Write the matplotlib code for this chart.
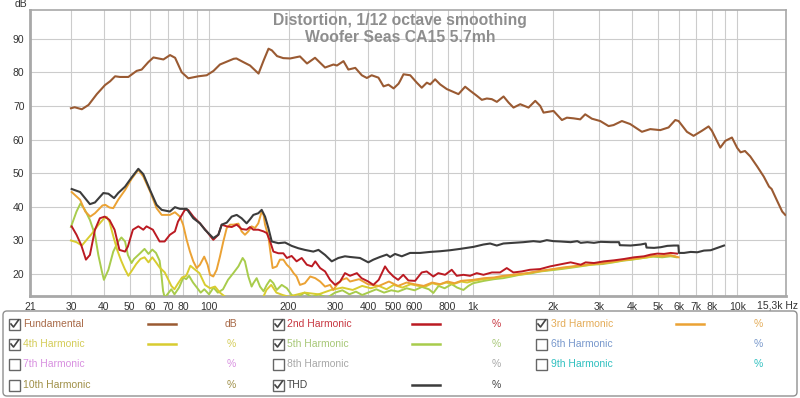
import matplotlib
matplotlib.use('Agg')
import matplotlib.pyplot as plt
from matplotlib.patches import FancyBboxPatch, Rectangle
from matplotlib.ticker import NullLocator

plt.rcParams['font.family'] = ['Liberation Sans', 'DejaVu Sans']

# Fundamental (dB)
fund_f = [30, 31, 33, 35, 37.6, 40.4, 42.2, 44.1, 46, 49.5, 53.2, 55.6, 58.9, 61.6, 67.2, 71.2,
          74.4, 78.8, 83.5, 91.2, 98, 104, 110, 124, 127, 135, 143, 154, 161, 168, 173, 181,
          191, 203, 221, 235, 252, 275, 296, 305, 323, 337, 358, 379, 396, 413, 438, 458,
          478, 500, 522, 529, 545, 578, 612, 639, 668, 688, 718, 750, 795, 880, 933, 975,
          1033, 1079, 1127, 1177, 1230, 1304, 1362, 1422, 1508, 1621, 1719, 1795, 1848, 2016,
          2169, 2265, 2401, 2544, 2657, 2816, 3029, 3258, 3402, 3659, 3934, 4356, 4685, 5112,
          5497, 5827, 5998, 6450, 6834, 7350, 7790, 8020, 8628, 9012, 9550, 10000, 10300,
          10700, 11200, 11900, 12600, 13200, 13500, 14100, 14800, 15200]
fund_v = [69.3, 69.6, 69.0, 70.3, 73.5, 76.2, 77.3, 78.8, 78.6, 78.6, 80.4, 80.8, 83.0, 84.4,
          83.8, 85.1, 84.3, 80.0, 78.2, 78.8, 79.1, 80.4, 82.3, 84.0, 84.1, 83.0, 82.0, 79.6,
          83.5, 87.0, 86.5, 84.8, 84.2, 84.1, 84.7, 82.6, 84.3, 81.4, 82.3, 82.0, 83.3, 80.8,
          81.3, 79.1, 78.3, 79.1, 78.4, 75.8, 76.3, 75.2, 76.6, 77.4, 79.4, 79.1, 76.9, 75.4,
          76.9, 76.4, 77.9, 76.4, 75.0, 73.5, 75.7, 74.5, 73.0, 71.8, 72.2, 72.0, 71.2, 72.8,
          71.0, 69.5, 70.5, 69.5, 71.5, 70.0, 68.0, 68.5, 65.8, 66.5, 66.3, 66.0, 67.5, 66.2,
          65.5, 64.0, 64.3, 65.5, 64.6, 62.3, 63.1, 62.8, 63.6, 65.8, 65.5, 62.3, 61.1, 62.6,
          63.9, 62.6, 57.6, 59.6, 60.6, 57.5, 56.2, 56.6, 55.0, 52.0, 49.0, 46.0, 45.3, 42.1,
          38.6, 37.6]

# 2nd harmonic (%)
h2_f = [30.2, 31.5, 32.8, 34.2, 35.4, 37, 38.6, 40.3, 42, 43.9, 45.8, 48.1, 49.3, 51.5, 54,
        56.4, 58, 61.3, 65, 67.9, 71.1, 74.3, 76.3, 81, 83.4, 87.2, 92.4, 98, 103.8, 108.5,
        111.7, 116.7, 121.9, 127.3, 132.9, 138.8, 143, 147.2, 153.7, 160.9, 165.5, 170.4,
        175.3, 183.1, 191.2, 197.2, 205.5, 214.6, 224.4, 234.6, 245.2, 252.5, 263.5, 275.1,
        287.4, 300.2, 313.6, 327.2, 342, 363, 378, 401, 419, 439, 464, 478, 499, 520, 544,
        569, 603, 639, 667, 707, 738, 783, 830, 867, 919, 974, 1032, 1094, 1178, 1265, 1341,
        1421, 1528, 1642, 1793, 1957, 2106, 2340, 2555, 2667, 2868, 3131, 3415, 3726, 4065,
        4436, 4700, 4985, 5282, 5598, 5915]
h2_v = [34.2, 31.7, 28.7, 24.3, 25.7, 33.2, 36.6, 37.1, 36.1, 33.2, 27.2, 26.7, 28.2, 33.2,
        34.2, 33.2, 34.2, 33.2, 29.7, 29.7, 31.7, 32.7, 35.6, 39.1, 39.1, 37.1, 35.1, 32.7,
        30.2, 31.7, 34.7, 34.2, 34.0, 34.7, 33.4, 33.2, 34.0, 33.2, 33.2, 32.7, 32.2, 29.7,
        26.7, 26.2, 26.2, 24.8, 25.4, 23.8, 24.8, 22.8, 22.3, 23.8, 21.8, 20.8, 18.3, 16.8,
        17.8, 20.3, 19.5, 20.3, 18.8, 17.8, 16.8, 18.3, 22.3, 20.8, 19.3, 18.3, 19.8, 18.1,
        18.0, 20.5, 20.8, 19.3, 20.3, 19.8, 21.3, 19.5, 19.8, 19.5, 20.3, 19.8, 20.5, 20.5,
        21.8, 20.5, 20.8, 21.3, 21.5, 22.3, 22.8, 23.5, 22.8, 23.5, 23.3, 23.8, 24.1, 24.5,
        25.0, 25.3, 25.8, 26.1, 26.0, 26.3, 26.1]

# 3rd harmonic (%)
h3_f = [30.2, 32.5, 34, 35.5, 37, 39.5, 40.5, 42, 43.4, 45.3, 48.1, 50.9, 54, 56.4, 59.8,
        63.3, 66.2, 71.1, 74.3, 77.6, 79.8, 82.3, 84.7, 87.2, 89.8, 92.4, 95.9, 98.8, 100.9,
        103.8, 106.9, 110, 113.3, 116.7, 120.1, 123.7, 129.2, 132.9, 136.8, 140.9, 145,
        149.3, 153.7, 158.3, 160.9, 163, 167.8, 170.4, 174.1, 180.5, 185.5, 191.2, 197, 203,
        209, 214.6, 221, 230.7, 241.7, 252.5, 263.5, 275, 287.4, 295.6, 304.7, 318, 332, 342,
        370, 400, 440, 480, 520, 560, 600, 650, 700, 750, 800, 850, 900, 1000, 1100, 1200,
        1300, 1400, 1600, 1800, 2000, 2200, 2500, 2800, 3100, 3400, 3700, 4000, 4400, 4800,
        5200, 5600, 6000]
h3_v = [44.4, 42.1, 38.6, 37.1, 38.1, 40.4, 40.6, 39.8, 39.6, 42.1, 45.0, 48.3, 51.0, 49.0,
        44.6, 39.6, 37.6, 37.6, 38.4, 37.1, 34.7, 30.2, 26.7, 23.8, 21.8, 22.8, 25.2, 22.8,
        19.8, 19.3, 21.3, 25.2, 29.7, 33.7, 34.7, 34.7, 35.0, 32.7, 31.7, 32.7, 34.2, 33.7,
        35.1, 38.6, 37.6, 34.7, 31.2, 27.2, 21.8, 22.3, 24.3, 24.3, 22.8, 21.8, 20.3, 19.3,
        16.8, 17.3, 19.3, 18.8, 17.8, 16.3, 16.8, 15.3, 16.8, 18.3, 18.8, 17.8, 18.5, 17.0,
        16.5, 17.8, 16.5, 17.5, 17.0, 16.5, 17.5, 17.0, 17.8, 17.3, 18.0, 18.3, 18.8, 19.0,
        19.5, 19.8, 20.3, 21.0, 21.5, 22.0, 22.5, 23.0, 23.2, 23.8, 24.2, 24.5, 25.0, 25.5,
        25.3, 25.6, 25.0]

# 4th harmonic (%)
h4_f = [30, 31.5, 33, 34.5, 36, 38, 40, 41, 42, 43.5, 45, 46.5, 48, 49.5, 51, 53, 55, 57, 59,
        61, 63, 65, 68, 70, 72, 74, 76, 79, 82, 85, 88, 92, 96.6, 100.9, 105.4, 110, 115, 120,
        155, 160, 165, 172, 180, 190, 200, 230, 260, 290, 320, 350, 380, 410, 440, 470, 500,
        540, 580, 620, 660, 700, 740, 790, 840, 900, 950, 1000, 1100, 1200, 1300, 1400, 1550,
        1700, 1850, 2000, 2200, 2500, 2800, 3100, 3400, 3700, 4000, 4400, 4800, 5200, 5500,
        5800]
h4_v = [30.0, 29.5, 28.5, 30.3, 32.0, 34.5, 36.5, 37.0, 35.5, 31.0, 27.0, 24.0, 21.5, 19.5,
        21.0, 23.0, 24.5, 25.0, 23.5, 25.0, 23.5, 22.0, 20.5, 18.5, 16.5, 15.5, 17.0, 19.0,
        19.5, 22.5, 21.5, 20.3, 16.8, 15.8, 16.3, 14.5, 13.3, 12.0, 12.0, 13.0, 15.3, 16.8,
        14.5, 13.8, 13.3, 14.5, 14.0, 15.3, 16.0, 15.3, 16.5, 15.8, 16.5, 15.5, 16.8, 16.0,
        17.0, 16.5, 16.3, 17.3, 16.8, 17.5, 17.0, 17.8, 17.5, 18.0, 18.5, 18.8, 19.3, 19.6,
        20.0, 20.6, 21.0, 21.4, 21.8, 22.4, 22.8, 23.3, 23.6, 24.1, 24.4, 24.8, 25.3, 25.5,
        25.6, 25.3]

# 5th harmonic (%)
h5_f = [30, 31.5, 32.6, 33.9, 35.4, 37, 38.1, 39.3, 40, 41.6, 43.4, 45.3, 46.6, 48.1, 49.3,
        50.9, 52, 55, 57, 59, 61, 63, 65, 66, 67, 68, 72, 74, 77, 80, 82, 84, 87, 90, 93, 96,
        100, 104, 108, 113, 118, 123.6, 129.2, 134.1, 136.8, 140.9, 145, 147.2, 151.5, 156,
        160.9, 165.5, 170.4, 175.3, 180.5, 188.5, 197.2, 205.5, 215, 230, 245, 260, 280, 300,
        320, 340, 360, 380, 400, 430, 460, 490, 520, 560, 600, 640, 680, 707, 740, 780, 830,
        870, 919, 960, 1000, 1100, 1200, 1300, 1400, 1500, 1650, 1800, 2000, 2200, 2500, 2800,
        3100, 3400, 3700, 4000, 4400, 4800, 5200, 5600, 5900]
h5_v = [34.0, 38.6, 41.0, 39.1, 36.1, 31.7, 25.7, 20.8, 18.3, 21.3, 26.7, 29.7, 30.9, 29.7,
        25.7, 23.3, 24.5, 26.3, 27.5, 26.0, 27.3, 26.3, 24.0, 20.0, 15.0, 13.0, 15.5, 14.0,
        16.0, 19.0, 18.5, 19.5, 17.5, 16.0, 14.5, 15.5, 14.0, 16.0, 14.5, 15.5, 18.3, 20.3,
        22.3, 24.8, 23.8, 19.3, 16.3, 17.3, 18.8, 16.3, 14.9, 16.8, 18.3, 17.3, 15.3, 16.8,
        15.8, 13.8, 13.0, 14.5, 13.2, 14.0, 13.0, 14.5, 15.2, 14.0, 14.8, 13.8, 14.5, 15.5,
        14.5, 15.2, 14.8, 15.8, 15.2, 16.2, 15.5, 14.4, 16.5, 15.8, 17.0, 16.0, 15.3, 16.5,
        17.3, 18.0, 18.5, 18.8, 19.3, 19.8, 20.2, 20.8, 21.2, 21.6, 22.2, 22.8, 23.0, 23.5,
        24.0, 24.3, 24.8, 25.2, 25.0, 25.3, 25.0]

# THD (%)
thd_f = [30.2, 32.5, 35.4, 37, 39.8, 41.6, 43.7, 45.3, 48.1, 50.9, 54, 56.4, 59.8, 63.3, 66.2,
         71.1, 74.3, 77.6, 82.3, 87.2, 92.4, 96.5, 103.8, 108.5, 111.7, 116.7, 121.9, 127.3,
         132.9, 138.8, 143, 147.2, 153.7, 158.3, 163, 167.8, 172.8, 183.1, 194, 205.5, 217.8,
         230.7, 248.3, 259.7, 275.1, 291.5, 308.8, 327.2, 342, 373, 401, 419, 444, 471, 485,
         506, 537, 577, 630, 687, 749, 818, 893, 946, 1003, 1094, 1160, 1229, 1302, 1421, 1551,
         1692, 1793, 1901, 2014, 2144, 2340, 2480, 2555, 2707, 2868, 3039, 3317, 3567, 3594,
         3949, 4309, 4502, 4535, 4842, 5131, 5437, 5763, 5986, 6015, 6289, 6664, 7064, 7484,
         7934, 8408, 8913]
thd_v = [45.3, 44.4, 40.8, 41.3, 44.1, 43.9, 42.6, 44.1, 46.0, 48.7, 51.3, 49.7, 45.0, 40.6,
         39.1, 38.6, 39.9, 39.4, 39.4, 36.6, 35.1, 33.2, 30.7, 31.7, 34.7, 35.3, 37.1, 37.6,
         36.6, 35.1, 36.3, 37.6, 38.1, 39.1, 37.1, 33.7, 29.7, 29.2, 29.4, 28.4, 27.7, 27.2,
         26.7, 27.2, 25.7, 23.8, 24.8, 25.3, 25.1, 24.8, 23.5, 24.3, 25.1, 25.8, 25.1, 26.0,
         25.3, 26.3, 26.3, 26.6, 26.8, 27.1, 27.5, 27.8, 28.1, 28.8, 29.1, 28.5, 29.1, 29.3,
         29.5, 29.8, 29.6, 30.1, 29.8, 29.7, 29.5, 29.8, 29.3, 29.5, 29.3, 29.6, 29.5, 29.5,
         28.6, 28.5, 28.8, 29.1, 27.9, 27.8, 28.0, 28.4, 28.5, 28.5, 26.3, 26.3, 26.6, 26.5,
         27.0, 27.1, 27.8, 28.5]

x_ticks = [21, 30, 40, 50, 60, 70, 80, 90, 100, 200, 300, 400, 500, 600, 700, 800, 900,
           1000, 2000, 3000, 4000, 5000, 6000, 7000, 8000, 9000, 10000]
x_labels = ['21', '30', '40', '50', '60', '70', '80', '', '100', '200', '300', '400', '500',
            '600', '', '800', '', '1k', '2k', '3k', '4k', '5k', '6k', '7k', '8k', '', '10k']
x_end_label = '15,3k Hz'
y_ticks = [20, 30, 40, 50, 60, 70, 80, 90]

# legend rows (REW style)
leg_names = ['Fundamental', '2nd Harmonic', '3rd Harmonic', '4th Harmonic', '5th Harmonic',
             '6th Harmonic', '7th Harmonic', '8th Harmonic', '9th Harmonic', '10th Harmonic',
             'THD']
leg_units = ['dB', '%', '%', '%', '%', '%', '%', '%', '%', '%', '%']
leg_checked = [True, True, True, True, True, False, False, False, False, False, True]
leg_line_colors = ['#9a5a32', '#bb1a22', '#eba234', '#d8cc30', '#a8cc4c', '#7898cc',
                   '#d890e0', '#a8a8a8', '#30c8c8', '#a09048', '#3c3c3c']
leg_text_colors = ['#a86a48', '#c83842', '#e4ac58', '#d4cc58', '#a8c878', '#7898cc',
                   '#d890e0', '#a8a8a8', '#30c0c0', '#a09048', '#444444']

fig = plt.figure(figsize=(8.0, 3.98), dpi=100)
fig.patch.set_facecolor('white')
ax = fig.add_axes([30 / 800, 102 / 398, 756 / 800, 286 / 398])
ax.set_xscale('log')
ax.set_xlim(21, 15300)
ax.set_ylim(13.5, 98.5)

ax.plot(h5_f, h5_v, color=leg_line_colors[4], lw=1.4, zorder=3)
ax.plot(h4_f, h4_v, color=leg_line_colors[3], lw=1.4, zorder=3)
ax.plot(h3_f, h3_v, color=leg_line_colors[2], lw=1.4, zorder=3)
ax.plot(h2_f, h2_v, color=leg_line_colors[1], lw=1.4, zorder=3)
ax.plot(fund_f, fund_v, color=leg_line_colors[0], lw=1.5, zorder=3)
ax.plot(thd_f, thd_v, color=leg_line_colors[10], lw=1.5, zorder=4)

ax.set_xticks(x_ticks)
ax.set_xticklabels(x_labels)
ax.xaxis.set_minor_locator(NullLocator())
ax.set_yticks(y_ticks)
ax.set_yticklabels([str(t) for t in y_ticks])
ax.tick_params(length=0, labelsize=7.5, colors='#333333', pad=4)
ax.grid(True, color='#cccccc', lw=0.8)
for s in ax.spines.values():
    s.set_color('#a8a8a8')
    s.set_linewidth(1.2)
ax.spines['left'].set_linewidth(2)
ax.spines['bottom'].set_linewidth(2)

# end-of-axis label sits past the plot edge, so place it by hand
fig.text(798 / 800, 1 - 306 / 398, x_end_label, ha='right', va='center', fontsize=7.5,
         color='#333333')

fig.text(0.5, 1 - 20 / 398, 'Distortion, 1/12 octave smoothing', ha='center', va='center',
         fontsize=11.3, fontweight='bold', color='#8e8e8e')
fig.text(0.5, 1 - 37 / 398, 'Woofer Seas CA15 5.7mh', ha='center', va='center',
         fontsize=11.3, fontweight='bold', color='#8e8e8e')
fig.text(21 / 800, 1 - 4 / 398, 'dB', ha='center', va='center', fontsize=7.5, color='#333333')

# legend panel in pixel coordinates
lg = fig.add_axes([0, 0, 1, 1], zorder=-1)
lg.set_xlim(0, 800)
lg.set_ylim(398, 0)
lg.axis('off')
lg.add_patch(FancyBboxPatch((3, 311), 794, 85, boxstyle='round,pad=0,rounding_size=4',
                            ec='#909090', fc='white', lw=1))
col_box = [9, 273, 536]
col_text = [23, 287, 551]
col_line = [(148, 176), (412, 440), (676, 704)]
col_unit = [231, 496, 758]
row_y = [324, 344, 364, 385]
for i, name in enumerate(leg_names):
    r, c = divmod(i, 3)
    y = row_y[r]
    bx = col_box[c]
    lg.add_patch(Rectangle((bx, y - 5.5), 11, 11, fill=False, ec='#666666', lw=1))
    if leg_checked[i]:
        lg.plot([bx + 2, bx + 4.5, bx + 9.5], [y, y + 3, y - 4], color='#444444', lw=1.2)
        lg.plot(col_line[c], [y, y], color=leg_line_colors[i], lw=1.8)
    lg.text(col_text[c], y, name, ha='left', va='center', fontsize=7.5,
            color=leg_text_colors[i])
    lg.text(col_unit[c], y, leg_units[i], ha='center', va='center', fontsize=7.5,
            color=leg_text_colors[i])

fig.savefig('out.png', dpi=100)
